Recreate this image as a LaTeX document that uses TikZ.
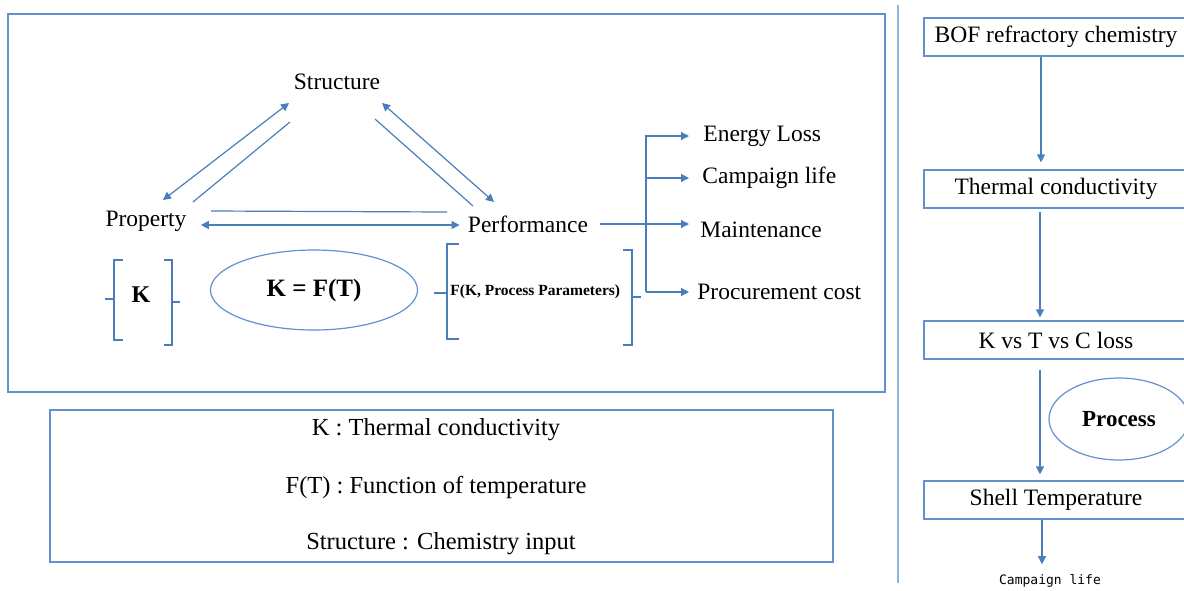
\documentclass[tikz,border=0pt]{standalone}
\usepackage{fontspec}
\setmainfont{Liberation Serif}
\newfontfamily\codefont{DejaVu Sans Mono}
\usetikzlibrary{arrows.meta,shapes.geometric}
\definecolor{lineblue}{RGB}{74,126,187}
\definecolor{boxblue}{RGB}{98,145,205}

\tikzset{
  ln/.style={draw=lineblue, line width=0.6pt},
  arr/.style={ln, -{Triangle[length=4pt,width=4pt]}},
  dblarr/.style={ln, {Triangle[length=4pt,width=4pt]}-{Triangle[length=4pt,width=4pt]}},
  txt/.style={font=\fontsize{11.75}{13}\selectfont, inner sep=0pt},
  bigtxt/.style={font=\fontsize{12.25}{14}\selectfont, inner sep=0pt},
  flowbox/.style={draw=boxblue, line width=0.6pt, minimum width=132pt, minimum height=19pt,
    inner sep=0pt, font=\fontsize{11.75}{13}\selectfont},
  oval/.style={ellipse, draw=boxblue, line width=0.6pt, inner sep=0pt},
}

\begin{document}
\begin{tikzpicture}[x=0.5pt, y=-0.5pt]
    \useasboundingbox (0,0) rectangle (1184,590);
    % frames
    \draw[boxblue, line width=0.6pt] (8,14) rectangle (885,392);
    \draw[boxblue, line width=0.6pt] (50,410) rectangle (833,562);
    \draw[boxblue!70, line width=0.6pt] (898,5) -- (898,583);

    % structure - property - performance
    \node[txt] (struct) at (337,82) {Structure};
    \node[txt] (prop) at (146,221) {Property};
    \node[txt] (perf) at (528,224) {Performance};
    \coordinate (sl1) at (289,103);
    \coordinate (sl2) at (290,122);
    \coordinate (sr1) at (382,103);
    \coordinate (sr2) at (375,119);
    \coordinate (pr1) at (163,200);
    \coordinate (pr2) at (193,202);
    \coordinate (pf1) at (494,202);
    \coordinate (pf2) at (473,206);
    \coordinate (hline) at (0,225);
    \draw[dblarr] (pr1) -- (sl1);
    \draw[ln] (pr2) -- (sl2);
    \draw[dblarr] (sr1) -- (pf1);
    \draw[ln] (sr2) -- (pf2);
    \draw[ln] (211,211) -- (447,212);
    \draw[dblarr, shorten <=7pt, shorten >=4pt] (prop.east |- hline) -- (perf.west |- hline);

    % K bracket
    \draw[ln] (123,260) -- (114,260) -- (114,340) -- (123,340);
    \draw[ln] (114,299) -- (105,299);
    \draw[ln] (164,260) -- (172,260) -- (172,345) -- (164,345);
    \draw[ln] (172,302) -- (180,302);
    \node[txt, font=\fontsize{12}{14}\selectfont\bfseries] (kval) at (141,295) {K};

    \node[oval, minimum width=103.5pt, minimum height=40pt,
      font=\fontsize{12.5}{14}\selectfont\bfseries] (kft) at (314,290) {K = F(T)};

    % F bracket
    \draw[ln] (459,244) -- (447,244) -- (447,339) -- (459,339);
    \draw[ln] (447,293) -- (434,293);
    \draw[ln] (623,250) -- (632,250) -- (632,345) -- (623,345);
    \draw[ln] (632,297) -- (641,297);
    \node[txt, anchor=west, font=\fontsize{7.75}{9}\selectfont\bfseries] (fkp) at (450,292)
      {F(K, Process Parameters)};

    % outcomes
    \node[txt, anchor=west] (energy) at (703,136) {Energy Loss};
    \node[txt, anchor=west] (camp) at (702,178) {Campaign life};
    \node[txt, anchor=west] (maint) at (700,230) {Maintenance};
    \node[txt, anchor=west] (proc) at (697,292) {Procurement cost};
    \coordinate (bus) at (646,0);
    \draw[arr, shorten <=6pt, shorten >=5.5pt] (perf.east) -- (perf.east -| maint.west);
    \draw[arr, shorten >=7pt] (bus |- proc.west) -- (bus |- energy.west) -- (energy.west);
    \draw[arr, shorten >=6.5pt] (bus |- camp.west) -- (camp.west);
    \draw[arr, shorten >=4pt] (bus |- proc.west) -- (proc.west);

    % legend
    \node[bigtxt] (lg1) at (436,430) {K : Thermal conductivity};
    \node[bigtxt] (lg2) at (436,487) {F(T) : Function of temperature};
    \node[bigtxt] (lg3) at (441,544) {Structure : Chemistry input};

    % flow on the right
    \node[flowbox] (bof) at (1056,37) {BOF refractory chemistry};
    \node[flowbox] (tc) at (1056,189) {Thermal conductivity};
    \node[flowbox] (kvt) at (1056,340) {K vs T vs C loss};
    \node[flowbox] (shell) at (1056,500) {Shell Temperature};
    \node[oval, minimum width=70pt, minimum height=41pt,
      font=\fontsize{11.5}{13}\selectfont\bfseries] (process) at (1119,419) {Process};
    \node[inner sep=0pt, font=\codefont\fontsize{6.5}{8}\selectfont] (clife) at (1050,581) {Campaign life};
    \draw[arr, shorten >=3.5pt] ([xshift=-7.5pt]bof.south) -- ([xshift=-7.5pt]tc.north);
    \draw[arr, shorten <=1.5pt, shorten >=1.5pt] ([xshift=-8pt]tc.south) -- ([xshift=-8pt]kvt.north);
    \draw[arr, shorten <=5pt, shorten >=3pt] ([xshift=-8pt]kvt.south) -- ([xshift=-8pt]shell.north);
    \draw[arr, shorten >=5pt] ([xshift=-7pt]shell.south) -- ([xshift=-7pt]shell.south |- clife.north);
\end{tikzpicture}
\end{document}
